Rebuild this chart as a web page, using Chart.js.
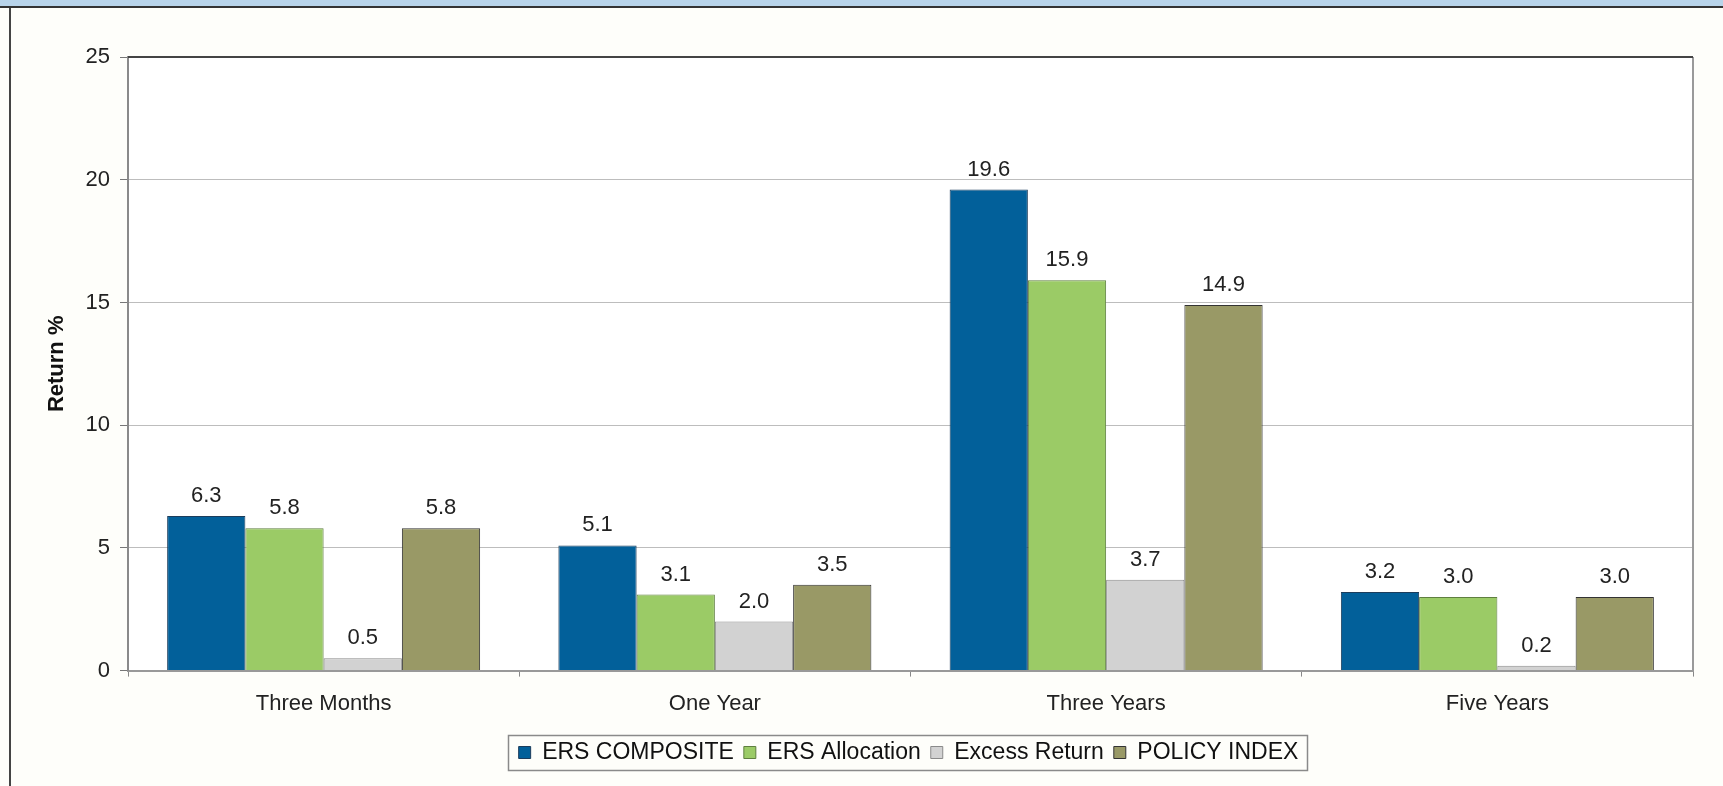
<!DOCTYPE html>
<html>
<head>
<meta charset="utf-8">
<script src="https://cdn.jsdelivr.net/npm/chart.js@4/dist/chart.umd.min.js"></script>
<style>
  html, body { margin:0; padding:0; background:#fefefa; }
  body { width:1723px; height:786px; position:relative; overflow:hidden; }
  #hdr { position:absolute; left:0; top:0; width:1723px; height:6px; background:#b8d4ea; border-bottom:2px solid #333; }
  #lb { position:absolute; left:9px; top:8px; width:2px; height:778px; background:#444; }
  #wrap { position:absolute; left:0; top:0; width:1723px; height:786px; }
</style>
</head>
<body>
<div id="hdr"></div>
<div id="lb"></div>
<div id="wrap"><canvas id="c" width="1723" height="786"></canvas></div>
<script>
const categories = ["Three Months", "One Year", "Three Years", "Five Years"];
const seriesNames = ["ERS COMPOSITE", "ERS Allocation", "Excess Return", "POLICY INDEX"];
const ersComposite = [6.3, 5.1, 19.6, 3.2];
const ersAllocation = [5.8, 3.1, 15.9, 3.0];
const excessReturn = [0.5, 2.0, 3.7, 0.2];
const policyIndex = [5.8, 3.5, 14.9, 3.0];
const yTicks = [0, 5, 10, 15, 20, 25];

const colors = ["#02609a", "#9bcb66", "#d2d2d2", "#999966"];
const borders = ["#1c3d5c", "#5f7f3f", "#8a8a8a", "#333333"];
const values = [ersComposite, ersAllocation, excessReturn, policyIndex];

const FONT = "'Liberation Sans', Arial, sans-serif";
const LEGEND_SHIFT = 62;

const plotBg = {
  id: 'plotBg',
  afterLayout(chart) {
    const lg = chart.legend;
    if (lg) { lg.left += LEGEND_SHIFT; lg.right += LEGEND_SHIFT; }
  },
  beforeDraw(chart) {
    const a = chart.chartArea, ctx = chart.ctx;
    ctx.save();
    ctx.fillStyle = '#ffffff';
    ctx.fillRect(a.left, a.top, a.right - a.left, a.bottom - a.top);
    ctx.restore();
  },
  afterDraw(chart) {
    const a = chart.chartArea, ctx = chart.ctx;
    ctx.save();
    ctx.strokeStyle = '#9a9a9a';
    ctx.lineWidth = 2;
    ctx.beginPath();
    ctx.moveTo(a.right, a.top);
    ctx.lineTo(a.right, a.bottom);
    ctx.stroke();
    ctx.strokeStyle = '#444';
    ctx.lineWidth = 2;
    ctx.beginPath();
    ctx.moveTo(a.left, a.top);
    ctx.lineTo(a.right, a.top);
    ctx.stroke();
    // legend frame
    const lg = chart.legend;
    if (lg && lg.legendHitBoxes && lg.legendHitBoxes.length) {
      const hb = lg.legendHitBoxes;
      const l = hb[0].left - 11, r = hb[hb.length-1].left + hb[hb.length-1].width + 8;
      const cy = hb[0].top + hb[0].height / 2;
      ctx.strokeStyle = '#8a8a8a';
      ctx.lineWidth = 1.5;
      ctx.strokeRect(Math.round(l) + 0.5, Math.round(cy - 18) + 0.5, Math.round(r - l), 35);
    }
    ctx.restore();
  }
};

const dataLabels = {
  id: 'dataLabels',
  afterDatasetsDraw(chart) {
    const ctx = chart.ctx;
    ctx.save();
    ctx.font = "22px " + FONT;
    ctx.fillStyle = '#222';
    ctx.textAlign = 'center';
    ctx.textBaseline = 'alphabetic';
    chart.data.datasets.forEach((ds, i) => {
      const meta = chart.getDatasetMeta(i);
      meta.data.forEach((bar, j) => {
        ctx.fillText(ds.data[j].toFixed(1), bar.x, bar.y - 14);
      });
    });
    ctx.restore();
  }
};

new Chart(document.getElementById('c'), {
  type: 'bar',
  data: {
    labels: categories,
    datasets: seriesNames.map((n, i) => ({
      label: n,
      data: values[i],
      backgroundColor: colors[i],
      borderColor: borders[i],
      borderWidth: 1,
      categoryPercentage: 0.8,
      barPercentage: 1.0
    }))
  },
  options: {
    responsive: false,
    animation: false,
    devicePixelRatio: 1,
    layout: { padding: { left: 0, right: 30, top: 57, bottom: 12 } },
    plugins: {
      tooltip: { enabled: false },
      legend: {
        position: 'bottom',
        labels: {
          font: { size: 23, family: FONT },
          color: '#111',
          boxWidth: 12,
          boxHeight: 12,
          padding: 10,
          generateLabels(chart) {
            return chart.data.datasets.map((ds, i) => ({
              text: ds.label,
              fillStyle: ds.backgroundColor,
              strokeStyle: ds.borderColor,
              lineWidth: 1,
              datasetIndex: i,
              fontColor: '#111'
            }));
          }
        }
      }
    },
    scales: {
      x: {
        offset: true,
        grid: { drawOnChartArea: false, drawTicks: true, offset: true, tickLength: 6, color: '#888' },
        border: { color: '#999', width: 2 },
        ticks: { font: { size: 22, family: FONT }, color: '#222', padding: 14 }
      },
      y: {
        min: 0, max: 25,
        afterBuildTicks(scale) { scale.ticks = yTicks.map(v => ({ value: v })); },
        afterFit(scale) { scale.width = 128; },
        grid: {
          color: ctx => (ctx.tick && ctx.tick.value === 25) ? '#444' : '#bdbdbd',
          tickColor: '#777',
          tickLength: 8,
          lineWidth: 1
        },
        border: { color: '#8a8a8a', width: 2 },
        ticks: { font: { size: 22, family: FONT }, color: '#222', padding: 10 },
        title: {
          display: true,
          text: 'Return %',
          font: { size: 22, weight: 'bold', family: FONT },
          color: '#111',
          padding: { top: 44, bottom: 0 }
        }
      }
    }
  },
  plugins: [plotBg, dataLabels]
});
</script>
</body>
</html>
